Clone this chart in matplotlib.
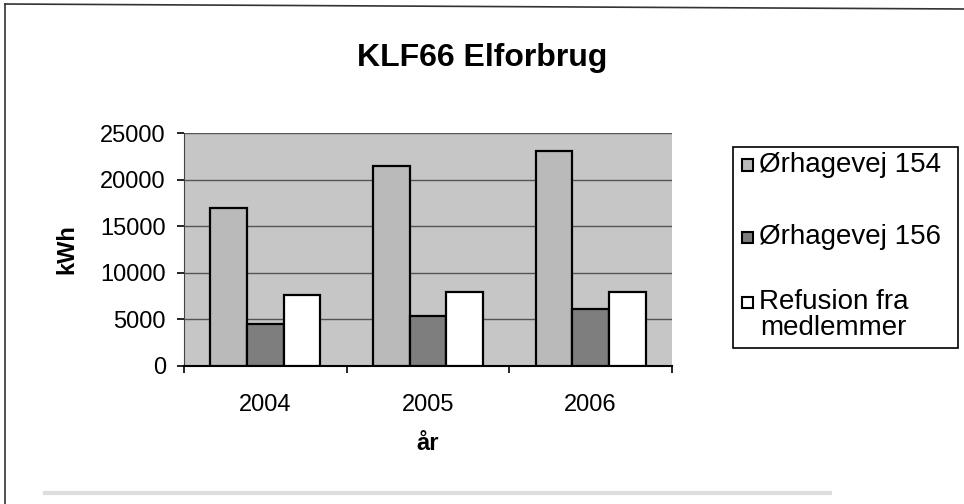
import numpy as np
import matplotlib
matplotlib.use("Agg")
from matplotlib import pyplot as plt
from matplotlib.patches import Rectangle
from matplotlib.lines import Line2D

plt.rcParams['font.family'] = ['Liberation Sans', 'DejaVu Sans']

# data
years = ['2004', '2005', '2006']
series_names = ['Ørhagevej 154', 'Ørhagevej 156', 'Refusion fra\nmedlemmer']
orhagevej_154 = [17000, 21450, 23050]
orhagevej_156 = [4500, 5400, 6100]
refusion = [7650, 7950, 7900]
yticks = [0, 5000, 10000, 15000, 20000, 25000]

colors = ['#bababa', '#7e7e7e', '#ffffff']

W, H = 964, 504
fig = plt.figure(figsize=(W / 100, H / 100), dpi=100)
ax = fig.add_axes([184 / W, 1 - 366 / H, (672 - 184) / W, (366 - 133) / H])
ax.set_facecolor('#c6c6c6')

x = np.arange(len(years))
bw = 0.225
values = [orhagevej_154, orhagevej_156, refusion]
for i, vals in enumerate(values):
    ax.bar(x + (i - 1) * bw, vals, bw, color=colors[i], edgecolor='black',
           linewidth=1.6, zorder=3)

ax.set_xlim(-0.5, len(years) - 0.5)
ax.set_ylim(0, 25000)
ax.set_yticks(yticks)
ax.set_yticklabels([str(t) for t in yticks], fontsize=17)
ax.set_xticks(x)
ax.set_xticklabels(years, fontsize=17)
ax.set_xticks(np.arange(-0.5, len(years)), minor=True)
ax.tick_params(axis='x', which='major', length=0, pad=20)
ax.tick_params(axis='x', which='minor', length=5, width=1.2, direction='out')
ax.tick_params(axis='y', length=5, width=1.2, direction='out', pad=8)
ax.yaxis.grid(True, color='#555555', linewidth=1.0, zorder=1)
ax.set_axisbelow(True)

for s in ['top', 'right']:
    ax.spines[s].set_visible(False)
ax.spines['left'].set_color('#444444')
ax.spines['bottom'].set_color('black')
ax.spines['bottom'].set_linewidth(1.5)

ax.set_ylabel('kWh', fontsize=17, fontweight='bold', labelpad=16)
ax.set_xlabel('år', fontsize=17, fontweight='bold', labelpad=12)
fig.text(0.5, 1 - 58 / H, 'KLF66 Elforbrug', fontsize=23, fontweight='bold',
         ha='center', va='center')

# legend drawn by hand so the square sits on the first text line
fig.add_artist(Rectangle((733 / W, 1 - 348 / H), (958 - 733) / W, (348 - 147) / H,
                         transform=fig.transFigure, facecolor='white',
                         edgecolor='black', linewidth=1.2))
rows = [165, 237, 302]
for i, name in enumerate(series_names):
    yc = rows[i]
    fig.add_artist(Rectangle((742 / W, 1 - (yc + 5.5) / H), 11 / W, 11 / H,
                             transform=fig.transFigure, facecolor=colors[i],
                             edgecolor='black', linewidth=1.5))
    fig.text(759 / W, 1 - (yc - 13) / H, name, fontsize=20, ha='left',
             va='top', linespacing=1.0, multialignment='center')

# outer chart frame
fig.add_artist(Line2D([5 / W, 5 / W], [0, 1 - 4 / H], transform=fig.transFigure,
                      color='#333333', linewidth=1.2))
fig.add_artist(Line2D([5 / W, 1], [1 - 4 / H, 1 - 9 / H], transform=fig.transFigure,
                      color='#333333', linewidth=1.2))
fig.add_artist(Line2D([45 / W, 830 / W], [1 - 493 / H, 1 - 493 / H],
                      transform=fig.transFigure, color='#dddddd', linewidth=3))

fig.savefig('out.png', dpi=100)
